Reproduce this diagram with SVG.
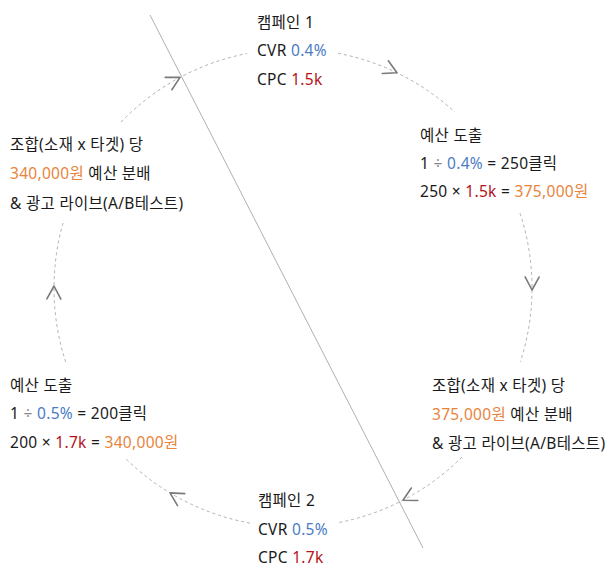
<svg xmlns="http://www.w3.org/2000/svg" width="615" height="577" viewBox="0 0 615 577">
<defs>
<marker id="chev" markerUnits="userSpaceOnUse" markerWidth="30" markerHeight="30" refX="0" refY="0" viewBox="-15 -15 30 30" orient="auto" overflow="visible">
<path d="M -13 -7 L 0 0 L -13 7" fill="none" stroke="#7a7a7a" stroke-width="1.6" stroke-linecap="round" stroke-linejoin="round"/>
</marker>
</defs>
<style>
text{font-family:"Noto Sans","Noto Sans CJK KR",sans-serif;font-size:15.5px;letter-spacing:0.3px;fill:#1a1a1a}
.b{fill:#4a7cc4}
.r{fill:#b5121b}
.o{fill:#e8843c}
.g{fill:#888}
.arc{fill:none;stroke:#b0b0b0;stroke-width:1;stroke-dasharray:3 3;marker-mid:url(#chev)}
</style>
<rect width="615" height="577" fill="#fff"/>
<g id="connectors">
<line x1="150" y1="15" x2="423" y2="548" stroke="#b0b0b0" stroke-width="1"/>
<path class="arc" d="M 338 53.3 A 239 239 0 0 1 397 72.8 A 239 239 0 0 1 455 112.3"/>
<path class="arc" d="M 520 213.2 A 239 239 0 0 1 532 290 A 239 239 0 0 1 520.3 362"/>
<path class="arc" d="M 462 457 A 239 239 0 0 1 403 500.2 A 239 239 0 0 1 338 522.7"/>
<path class="arc" d="M 250 523.1 A 239 239 0 0 1 170 492.9 A 239 239 0 0 1 125 458"/>
<path class="arc" d="M 65.7 362 A 239 239 0 0 1 54 286 A 239 239 0 0 1 63.9 220"/>
<path class="arc" d="M 121.1 122 A 239 239 0 0 1 180 77.4 A 239 239 0 0 1 247 53.5"/>
</g>
<g id="campaign1">
<text x="257" y="28">캠페인 1</text>
<text x="257" y="56">CVR <tspan class="b">0.4%</tspan></text>
<text x="257" y="85">CPC <tspan class="r">1.5k</tspan></text>
</g>
<g id="budget1">
<text x="420" y="141">예산 도출</text>
<text x="420" y="169">1 <tspan class="g">÷</tspan> <tspan class="b">0.4%</tspan> = 250클릭</text>
<text x="420" y="197">250 × <tspan class="r">1.5k</tspan> = <tspan class="o">375,000원</tspan></text>
</g>
<g id="alloc1">
<text x="432" y="391">조합(소재 x 타겟) 당</text>
<text x="432" y="420"><tspan class="o">375,000원</tspan> 예산 분배</text>
<text x="432" y="449">&amp; 광고 라이브(A/B테스트)</text>
</g>
<g id="campaign2">
<text x="258" y="506">캠페인 2</text>
<text x="258" y="535">CVR <tspan class="b">0.5%</tspan></text>
<text x="258" y="563">CPC <tspan class="r">1.7k</tspan></text>
</g>
<g id="budget2">
<text x="10" y="391">예산 도출</text>
<text x="10" y="419">1 <tspan class="g">÷</tspan> <tspan class="b">0.5%</tspan> = 200클릭</text>
<text x="10" y="448">200 × <tspan class="r">1.7k</tspan> = <tspan class="o">340,000원</tspan></text>
</g>
<g id="alloc2">
<text x="10" y="150">조합(소재 x 타겟) 당</text>
<text x="10" y="179"><tspan class="o">340,000원</tspan> 예산 분배</text>
<text x="10" y="209">&amp; 광고 라이브(A/B테스트)</text>
</g>
</svg>
